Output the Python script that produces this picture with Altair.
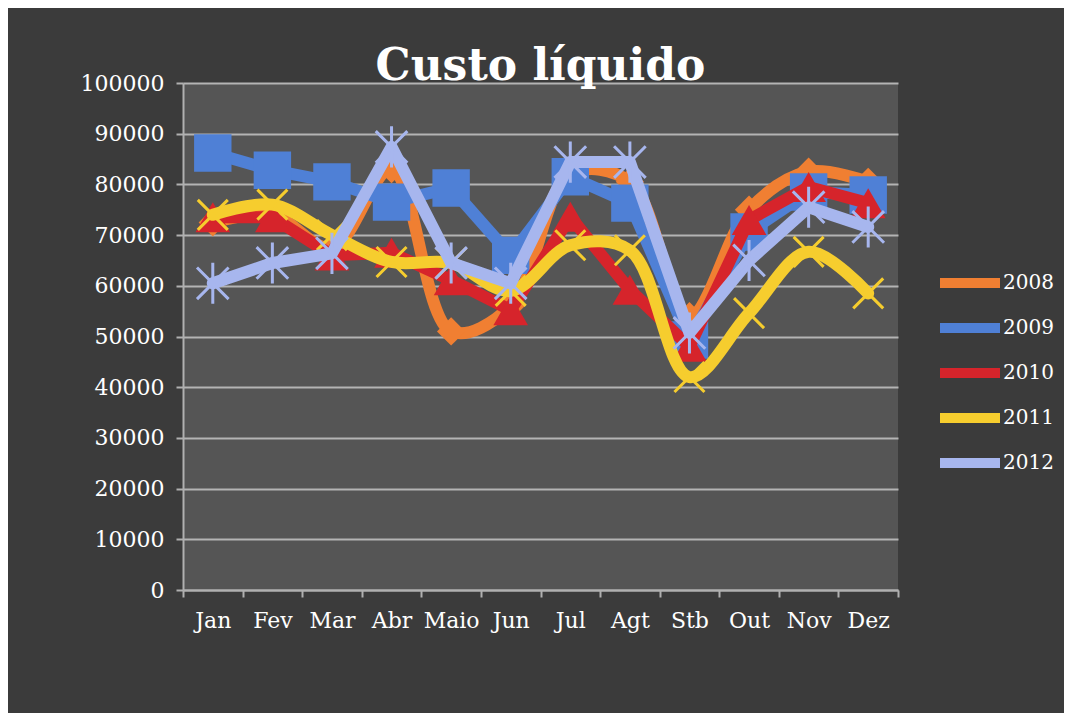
import altair as alt
import pandas as pd

months = ["Jan", "Fev", "Mar", "Abr", "Maio", "Jun", "Jul", "Agt", "Stb", "Out", "Nov", "Dez"]
years = ["2008", "2009", "2010", "2011", "2012"]

v2008 = [72500, 74000, 67500, 83000, 51000, 56000, 82000, 80500, 54000, 75000, 82500, 80500]
v2009 = [86200, 82800, 80500, 76500, 79300, 66000, 81500, 76300, 49300, 70600, 78500, 77900]
v2010 = [73500, 73500, 66000, 66500, 61100, 55200, 73600, 59200, 48000, 73000, 79500, 76300]
v2011 = [74000, 76000, 70000, 64700, 64500, 59000, 68000, 67000, 42000, 54600, 66700, 58500]
v2012 = [60500, 64500, 66400, 87400, 64500, 60500, 84400, 84400, 50700, 65000, 75500, 71600]

colors = ["#F07F32", "#4F80D6", "#D6242B", "#F6CD2E", "#A7B6EE"]

series = dict(zip(years, [v2008, v2009, v2010, v2011, v2012]))
rows = []
for y, vals in series.items():
    for m, v in zip(months, vals):
        rows.append({"month": m, "year": y, "value": v})
df = pd.DataFrame(rows)

FONT = "DejaVu Serif"

x = alt.X("month:N", sort=months,
          scale=alt.Scale(type="band", paddingInner=0, paddingOuter=0),
          axis=alt.Axis(title=None, labelAngle=0, tickBand="extent",
                        labelFont=FONT, labelFontSize=22, labelColor="white",
                        labelPadding=13, tickSize=7, tickColor="#b0b0b0",
                        tickWidth=2, domainColor="#b0b0b0", domainWidth=2,
                        grid=False))
y = alt.Y("value:Q",
          scale=alt.Scale(domain=[0, 100000]),
          axis=alt.Axis(title=None, values=list(range(0, 100001, 10000)), format="d",
                        labelFont=FONT, labelFontSize=22, labelColor="white",
                        labelPadding=12, tickSize=7, tickColor="#b0b0b0", tickWidth=2,
                        domainColor="#b0b0b0", domainWidth=2,
                        grid=True, gridColor="#b4b4b4", gridWidth=2))
color = alt.Color("year:N", scale=alt.Scale(domain=years, range=colors),
                  legend=alt.Legend(title=None, orient="none", legendX=767, legendY=180,
                                    symbolType="M-2,0H2", symbolSize=900,
                                    symbolStrokeWidth=10, labelFont=FONT,
                                    labelFontSize=20, labelColor="white",
                                    rowPadding=5, labelOffset=13))

base = alt.Chart(df).encode(x=x, y=y, color=color)

markers = {
    "2008": dict(filled=True, shape="diamond", size=800, strokeWidth=0),
    "2009": dict(filled=True, shape="square", size=1400, strokeWidth=0),
    "2010": dict(filled=True, shape="triangle-up", size=1200, strokeWidth=0),
    "2011": dict(filled=False, shape="M-1,-1L1,1M-1,1L1,-1", size=900, strokeWidth=3),
    "2012": dict(filled=False, shape="M-1,-1L1,1M-1,1L1,-1M0,-1.3L0,1.3", size=1000, strokeWidth=3),
}
smooth = {"2008", "2011"}

layers = []
for yr in years:
    sub = base.transform_filter(alt.datum.year == yr)
    if yr in smooth:
        ln = sub.mark_line(interpolate="catmull-rom", strokeWidth=12, strokeCap="round", strokeJoin="round")
    else:
        ln = sub.mark_line(strokeWidth=12, strokeCap="round", strokeJoin="round")
    pt = sub.mark_point(opacity=1, **markers[yr])
    layers += [ln, pt]

chart = alt.layer(*layers).properties(
    width=715, height=507,
    title=alt.TitleParams("Custo líquido", font=FONT, fontSize=44, fontWeight="bold",
                          color="white", offset=0, dy=17, anchor="middle"),
    autosize=alt.AutoSizeParams(type="none"),
    padding={"left": 175, "top": 75, "right": 166, "bottom": 123},
    background="#3b3b3b",
).configure_view(fill="#555555", stroke=None)

chart.save("out.html", embed_options={"renderer": "svg", "actions": False})
